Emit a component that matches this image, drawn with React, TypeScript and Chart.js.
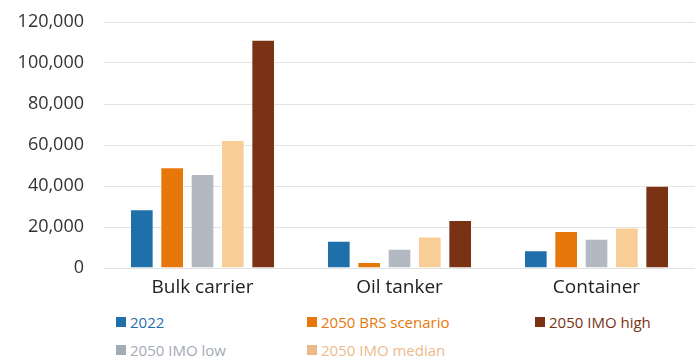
import React, { useEffect, useRef } from "react";
import { Chart, registerables } from "chart.js";

Chart.register(...registerables);

const categories = ["Bulk carrier", "Oil tanker", "Container"];
const seriesNames = ["2022", "2050 BRS scenario", "2050 IMO low", "2050 IMO median", "2050 IMO high"];
const v2022 = [28600, 13300, 8600];
const vBRS = [49200, 2900, 18000];
const vLow = [45900, 9400, 14300];
const vMedian = [62500, 15400, 19700];
const vHigh = [111300, 23400, 40100];
const yTicks = [0, 20000, 40000, 60000, 80000, 100000, 120000];

const barColors = ["#1f6fab", "#e8770a", "#b3b9c3", "#f9cd96", "#7a3214"];
const legendBoxColors = ["#1f6fab", "#e8770a", "#a3abb5", "#ecb988", "#7a3214"];
const legendTextColors = ["#1f6fab", "#e8770a", "#a3abb5", "#ecbb8b", "#7a3214"];

const FONT = "'Open Sans', 'Noto Sans', sans-serif";

export default function App() {
  const ref = useRef<HTMLCanvasElement | null>(null);

  useEffect(() => {
    document.body.style.margin = "0";
    const values = [v2022, vBRS, vLow, vMedian, vHigh];
    const chart = new Chart(ref.current as HTMLCanvasElement, {
      type: "bar",
      data: {
        labels: categories,
        datasets: seriesNames.map((name, i) => ({
          label: name,
          data: values[i],
          backgroundColor: barColors[i],
          borderColor: "rgba(255,255,255,0.45)",
          borderWidth: 1,
          categoryPercentage: 0.77,
          barPercentage: 0.78,
        })),
      },
      options: {
        responsive: false,
        animation: false,
        layout: { padding: { top: 22, right: 0, left: 0, bottom: 0 } },
        plugins: { legend: { display: false }, tooltip: { enabled: false } },
        scales: {
          x: {
            grid: { display: false, drawTicks: false },
            border: { display: false },
            ticks: { color: "#222", font: { family: FONT, size: 19 }, padding: 8 },
            afterFit: (s: any) => { s.height = 32; },
          },
          y: {
            min: 0,
            max: 120000,
            afterBuildTicks: (s: any) => { s.ticks = yTicks.map((v) => ({ value: v })); },
            grid: { color: "#e3e3e3", lineWidth: 1, drawTicks: true, tickLength: 20, tickColor: "rgba(0,0,0,0)" },
            border: { display: false },
            ticks: {
              color: "#333",
              font: { family: FONT, size: 18 },
              padding: 0,
              callback: (v: any) => Number(v).toLocaleString("en-US"),
            },
            afterFit: (s: any) => { s.width = 104; },
          },
        },
      },
    });
    return () => chart.destroy();
  }, []);

  const legendPos = [
    { x: 116, y: 317 },
    { x: 307, y: 317 },
    { x: 116, y: 345 },
    { x: 307, y: 345 },
    { x: 535, y: 317 },
  ];

  return (
    <div style={{ position: "relative", width: 695, height: 360 }}>
      <canvas ref={ref} width={695} height={300} style={{ position: "absolute", left: 0, top: 0 }} />
      {seriesNames.map((name, i) => (
        <div
          key={name}
          style={{
            position: "absolute",
            left: legendPos[i].x,
            top: legendPos[i].y - 6,
            height: 22,
            display: "flex",
            alignItems: "center",
            fontFamily: FONT,
            fontSize: 15,
            color: legendTextColors[i],
            whiteSpace: "nowrap",
          }}
        >
          <span style={{ display: "inline-block", width: 10, height: 10, background: legendBoxColors[i], marginRight: 4 }} />
          {name}
        </div>
      ))}
    </div>
  );
}
